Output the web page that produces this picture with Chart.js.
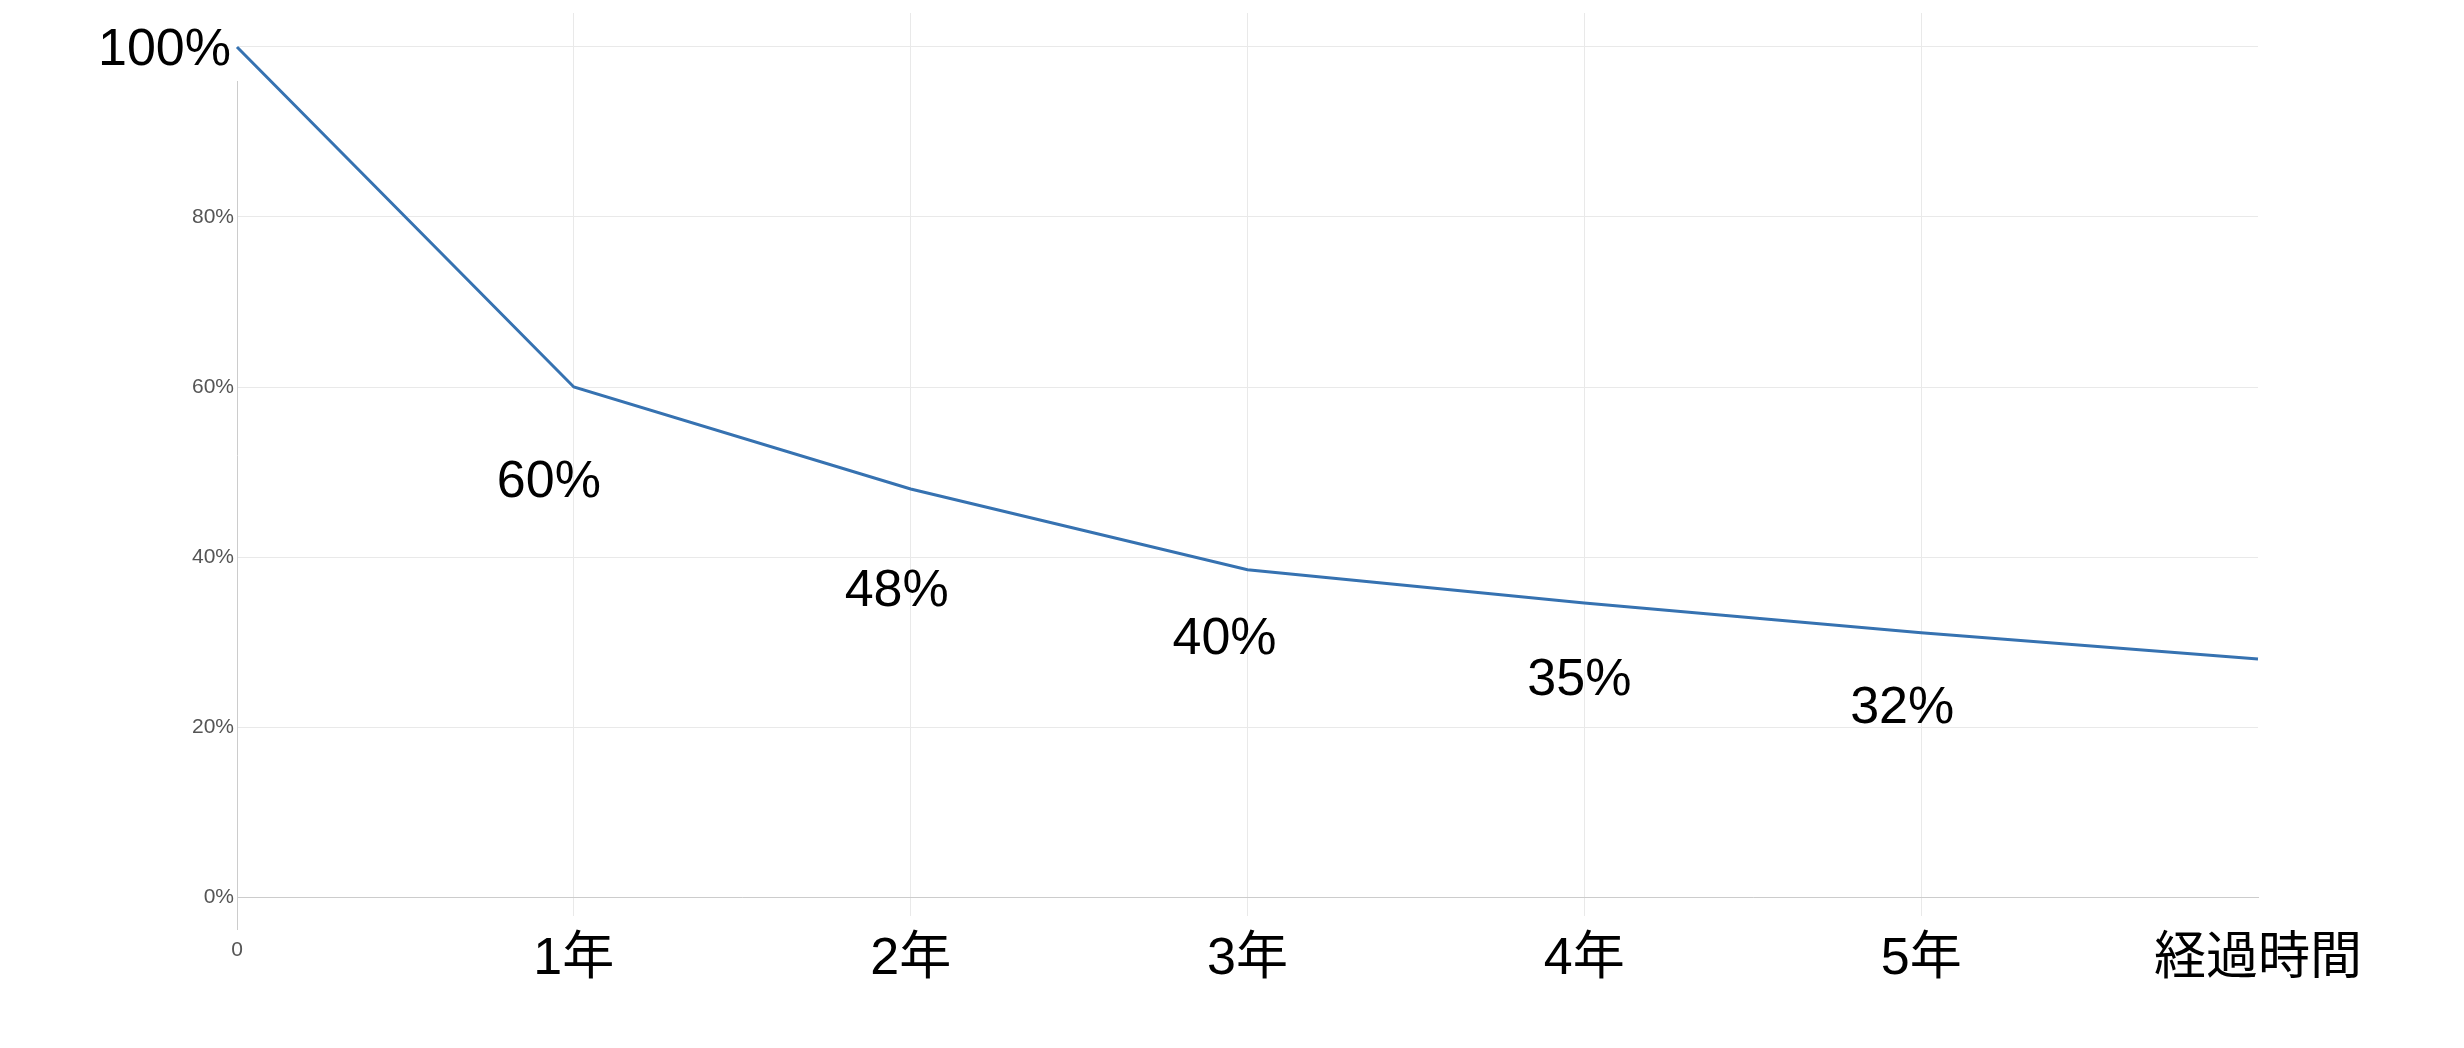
<!DOCTYPE html>
<html lang="ja">
<head>
<meta charset="utf-8">
<script src="https://cdn.jsdelivr.net/npm/chart.js@4.4.1/dist/chart.umd.min.js"></script>
<style>
  html, body { margin: 0; padding: 0; background: #fff; }
  #wrap { width: 2464px; height: 1048px; position: relative; }
</style>
</head>
<body>
<div id="wrap"><canvas id="lineChart"></canvas></div>
<script>
const labels = ['0', '1年', '2年', '3年', '4年', '5年', '経過時間'];
const values = [100, 60, 48, 38.5, 34.6, 31.1, 28];
const pointLabels = [null, '60%', '48%', '40%', '35%', '32%', null];
const yTicks = [0, 20, 40, 60, 80, 100];
const topTick = 100;

const bigFont = { family: "'Liberation Sans', 'Noto Sans CJK JP', sans-serif", size: 52 };
const smallFont = { family: "'Liberation Sans', sans-serif", size: 21 };
const smallColor = '#555';
const axisColor = '#cccccc';
const gridColor = '#e9e9e9';

// where each value label sits, relative to its point
const labelShift = [[0, 0], [-25, 96], [-14, 103], [-23, 70], [-5, 78], [-19, 76], [0, 0]];

const pctText = (v) => v + '%';

const valueLabels = {
  id: 'valueLabels',
  beforeDatasetsDraw(chart) {
    // big top tick label with a white box that hides the top of the y axis
    const ctx = chart.ctx;
    const y = chart.scales.y.getPixelForValue(topTick);
    const right = chart.chartArea.left - 6;
    ctx.save();
    ctx.font = `${bigFont.size}px ${bigFont.family}`;
    const w = ctx.measureText(pctText(topTick)).width;
    ctx.fillStyle = '#fff';
    ctx.fillRect(right - w - 4, y - 34, w + 12, 68);
    ctx.fillStyle = '#000';
    ctx.textAlign = 'right';
    ctx.textBaseline = 'middle';
    ctx.fillText(pctText(topTick), right, y + 4);
    // y axis runs a bit past the x axis
    ctx.strokeStyle = axisColor;
    ctx.lineWidth = 1;
    ctx.beginPath();
    ctx.moveTo(chart.chartArea.left + 0.5, chart.chartArea.bottom);
    ctx.lineTo(chart.chartArea.left + 0.5, chart.chartArea.bottom + 33);
    ctx.stroke();
    ctx.restore();
  },
  afterDatasetsDraw(chart) {
    const ctx = chart.ctx;
    const pts = chart.getDatasetMeta(0).data;
    ctx.save();
    ctx.font = `${bigFont.size}px ${bigFont.family}`;
    ctx.fillStyle = '#000';
    ctx.textAlign = 'center';
    ctx.textBaseline = 'middle';
    pts.forEach((p, i) => {
      if (!pointLabels[i]) return;
      ctx.fillText(pointLabels[i], p.x + labelShift[i][0], p.y + labelShift[i][1]);
    });
    ctx.restore();
  }
};

const data = {
  labels: labels,
  datasets: [{
    data: values,
    borderColor: '#3672b1',
    borderWidth: 3,
    pointRadius: 0,
    tension: 0,
    fill: false
  }]
};

const config = {
  type: 'line',
  data: data,
  options: {
    responsive: true,
    maintainAspectRatio: false,
    animation: false,
    layout: { padding: { top: 13, right: 206, bottom: 0, left: 0 } },
    plugins: { legend: { display: false }, tooltip: { enabled: false } },
    scales: {
      x: {
        grid: {
          color: (c) => (c.index === 0 || c.index === labels.length - 1) ? 'rgba(0,0,0,0)' : gridColor,
          tickLength: 19
        },
        border: { color: axisColor, width: 1 },
        ticks: {
          maxRotation: 0,
          autoSkip: false,
          padding: 12,
          font: (c) => c.index === 0 ? Object.assign({ lineHeight: 2.1 }, smallFont) : bigFont,
          color: (c) => c.index === 0 ? smallColor : '#000'
        },
        afterFit(scale) {
          scale.height = 151;
          scale.paddingLeft = 0;
          scale.paddingRight = 0;
        }
      },
      y: {
        min: 0,
        max: 104,
        grid: { color: gridColor, drawTicks: false },
        border: { color: axisColor, width: 1 },
        afterBuildTicks(scale) {
          scale.ticks = yTicks.map(v => ({ value: v }));
        },
        ticks: {
          padding: 3,
          callback: (v) => v === topTick ? '' : pctText(v),
          font: smallFont,
          color: smallColor
        },
        afterFit(scale) {
          scale.width = 237;
          scale.paddingTop = 0;
          scale.paddingBottom = 0;
        }
      }
    }
  },
  plugins: [valueLabels]
};

const lineChart = new Chart(document.getElementById('lineChart'), config);
</script>
</body>
</html>
